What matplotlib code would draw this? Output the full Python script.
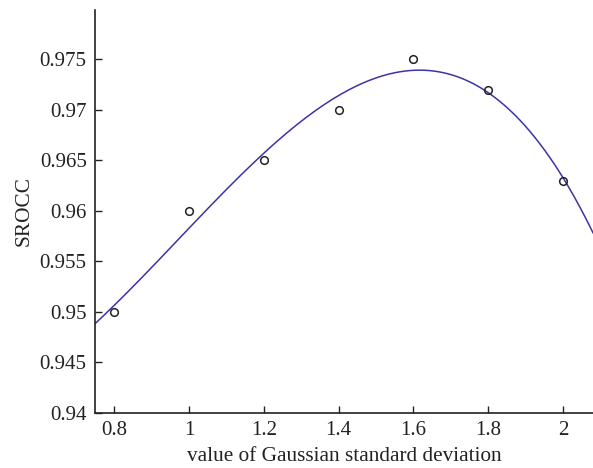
import numpy as np
import matplotlib
matplotlib.use("Agg")
import matplotlib.pyplot as plt

# measured SROCC for each Gaussian sigma
sigma = [0.8, 1.0, 1.2, 1.4, 1.6, 1.8, 2.0]
srocc = [0.950, 0.960, 0.965, 0.970, 0.975, 0.972, 0.963]

xticks = [0.8, 1.0, 1.2, 1.4, 1.6, 1.8, 2.0]
xticklabels = ["0.8", "1", "1.2", "1.4", "1.6", "1.8", "2"]
yticks = [0.94, 0.945, 0.95, 0.955, 0.96, 0.965, 0.97, 0.975]
yticklabels = ["0.94", "0.945", "0.95", "0.955", "0.96", "0.965", "0.97", "0.975"]

plt.rcParams["font.family"] = ["Liberation Serif", "DejaVu Serif"]

fig = plt.figure(figsize=(5.93, 4.68), dpi=100)
ax = fig.add_axes([95 / 593, 55 / 468, 1 - 95 / 593, (413 - 10) / 468])

# cubic fit through the points
coef = np.polyfit(sigma, srocc, 3)
xs = np.linspace(0.749, 2.08, 300)
ax.plot(xs, np.polyval(coef, xs), color="#3d34a6", lw=1.1)
ax.plot(sigma, srocc, "o", mfc="none", mec="#222222", ms=5.5, mew=1.1)

ax.set_xlim(0.749, 2.08)
ax.set_ylim(0.94, 0.9799)
ax.set_xticks(xticks)
ax.set_xticklabels(xticklabels)
ax.set_yticks(yticks)
ax.set_yticklabels(yticklabels)
ax.tick_params(direction="in", length=5, width=1, labelsize=15, colors="#222222", pad=6)
for s in ["top", "right"]:
    ax.spines[s].set_visible(False)
for s in ["left", "bottom"]:
    ax.spines[s].set_linewidth(1.2)
    ax.spines[s].set_color("#222222")

ax.set_xlabel("value of Gaussian standard deviation", fontsize=15.3, color="#222222", labelpad=5)
ax.set_ylabel("SROCC", fontsize=15.3, color="#222222", labelpad=4)

fig.savefig("out.png", dpi=100)
